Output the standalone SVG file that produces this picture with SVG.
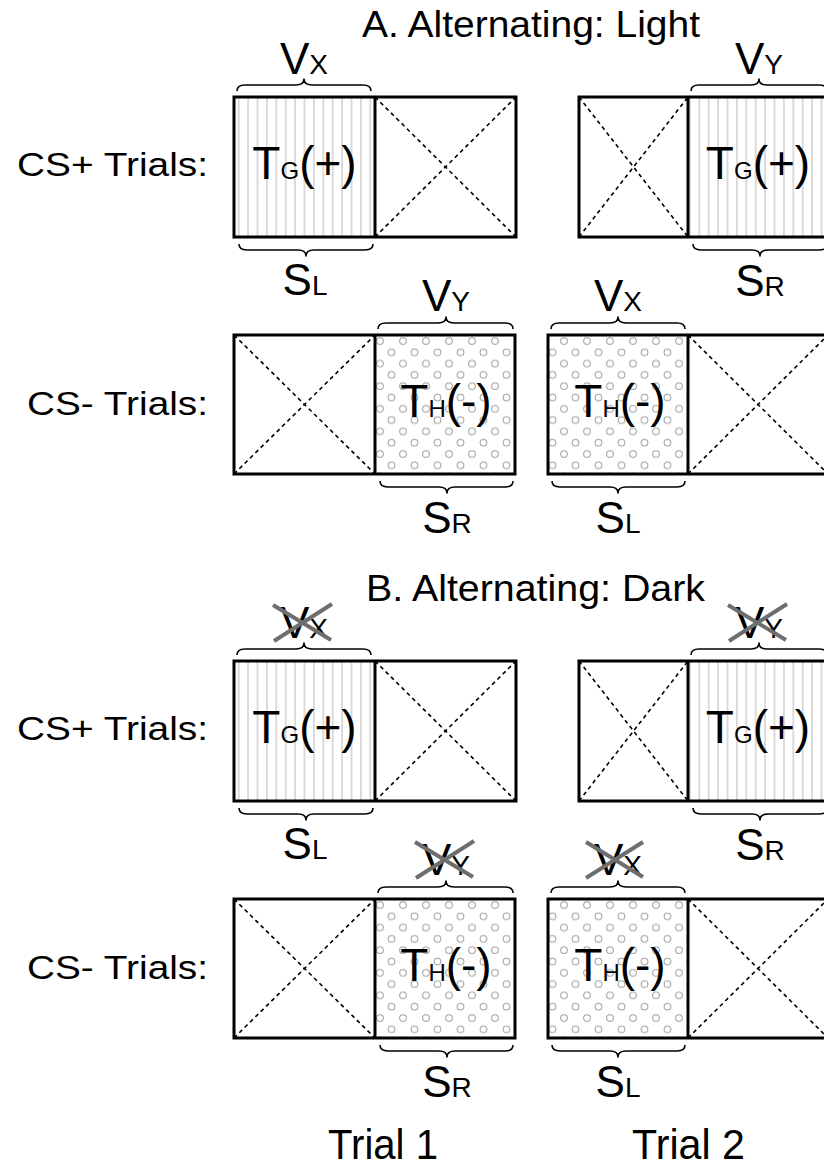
<svg xmlns="http://www.w3.org/2000/svg" width="824" height="1168" viewBox="0 0 824 1168">
  <style>
    .lbl { font-family: "Liberation Sans", Arial, Helvetica, sans-serif; fill: #000; }
    .outline { fill: none; stroke: #000; stroke-width: 3; }
    .div { stroke: #000; stroke-width: 3; }
    .diag { stroke: #000; stroke-width: 1.6; stroke-dasharray: 4 3.5; fill: none; }
    .brace { fill: none; stroke: #000; stroke-width: 1.6; stroke-linejoin: round; }
    .strike { stroke: #6e6e6e; stroke-width: 4; fill: none; }
    .big { font-size: 44px; }
    .sub { font-size: 28px; }
    .tbig { font-size: 46px; }
    .tsub { font-size: 24px; }
  </style>
  <defs>
    <!-- vertical grating (T_G) -->
    <pattern id="stripes" patternUnits="userSpaceOnUse" x="234" y="0" width="9.4" height="10">
      <rect width="9.4" height="10" fill="#fff"/>
      <line x1="4.7" y1="0" x2="4.7" y2="10" stroke="#b8b8b8" stroke-width="1"/>
    </pattern>
    <!-- open circles (T_H) -->
    <pattern id="dots" patternUnits="userSpaceOnUse" x="375" y="335" width="23" height="22.6">
      <rect width="23" height="22.6" fill="#fff"/>
      <circle cx="5" cy="6" r="3.4" fill="none" stroke="#a0a0a0" stroke-width="1"/>
      <circle cx="16.5" cy="17.3" r="3.4" fill="none" stroke="#a0a0a0" stroke-width="1"/>
    </pattern>
  </defs>

  <rect width="824" height="1168" fill="#fff"/>

  <!-- ===================== Panel A ===================== -->
  <g id="panelA">
    <text class="lbl" x="362" y="37" font-size="36" textLength="338" lengthAdjust="spacingAndGlyphs">A. Alternating: Light</text>
    <text class="lbl" x="17" y="176" font-size="34" textLength="191" lengthAdjust="spacingAndGlyphs">CS+ Trials:</text>
    <text class="lbl" x="27" y="415" font-size="34" textLength="181" lengthAdjust="spacingAndGlyphs">CS- Trials:</text>

    <g id="A-csplus-trial1">
      <rect x="234" y="97" width="141" height="140" fill="url(#stripes)"/>
      <rect x="375" y="97" width="141" height="140" fill="#fff"/>
      <line class="diag" x1="375" y1="97" x2="516" y2="237"/>
      <line class="diag" x1="375" y1="237" x2="516" y2="97"/>
      <rect class="outline" x="234" y="97" width="282" height="140"/>
      <line class="div" x1="375" y1="97" x2="375" y2="237"/>
      <text class="lbl" x="304.5" y="179" text-anchor="middle"><tspan class="tbig">T</tspan><tspan class="tsub">G</tspan><tspan class="tbig">(+)</tspan></text>
      <text class="lbl" x="304" y="74" text-anchor="middle"><tspan class="big">V</tspan><tspan class="sub">X</tspan></text>
      <text class="lbl" x="305" y="295" text-anchor="middle"><tspan class="big">S</tspan><tspan class="sub">L</tspan></text>
    </g>

    <g id="A-csplus-trial2">
      <rect x="579" y="97" width="109" height="140" fill="#fff"/>
      <rect x="688" y="97" width="142" height="140" fill="url(#stripes)"/>
      <line class="diag" x1="579" y1="97" x2="688" y2="237"/>
      <line class="diag" x1="579" y1="237" x2="688" y2="97"/>
      <rect class="outline" x="579" y="97" width="253" height="140"/>
      <line class="div" x1="688" y1="97" x2="688" y2="237"/>
      <text class="lbl" x="758" y="179" text-anchor="middle"><tspan class="tbig">T</tspan><tspan class="tsub">G</tspan><tspan class="tbig">(+)</tspan></text>
      <text class="lbl" x="759" y="74" text-anchor="middle"><tspan class="big">V</tspan><tspan class="sub">Y</tspan></text>
      <text class="lbl" x="760" y="296" text-anchor="middle"><tspan class="big">S</tspan><tspan class="sub">R</tspan></text>
    </g>

    <g id="A-csminus-trial1">
      <rect x="234" y="335" width="141" height="139" fill="#fff"/>
      <rect x="375" y="335" width="140" height="139" fill="url(#dots)"/>
      <line class="diag" x1="234" y1="335" x2="375" y2="474"/>
      <line class="diag" x1="234" y1="474" x2="375" y2="335"/>
      <rect class="outline" x="234" y="335" width="281" height="139"/>
      <line class="div" x1="375" y1="335" x2="375" y2="474"/>
      <text class="lbl" x="446" y="417" text-anchor="middle"><tspan class="tbig">T</tspan><tspan class="tsub">H</tspan><tspan class="tbig">(-)</tspan></text>
      <text class="lbl" x="446" y="311" text-anchor="middle"><tspan class="big">V</tspan><tspan class="sub">Y</tspan></text>
      <text class="lbl" x="447" y="533" text-anchor="middle"><tspan class="big">S</tspan><tspan class="sub">R</tspan></text>
    </g>

    <g id="A-csminus-trial2">
      <rect x="548" y="335" width="140" height="139" fill="url(#dots)"/>
      <rect x="688" y="335" width="142" height="139" fill="#fff"/>
      <line class="diag" x1="688" y1="335" x2="828" y2="474"/>
      <line class="diag" x1="688" y1="474" x2="828" y2="335"/>
      <rect class="outline" x="548" y="335" width="284" height="139"/>
      <line class="div" x1="688" y1="335" x2="688" y2="474"/>
      <text class="lbl" x="620" y="417" text-anchor="middle"><tspan class="tbig">T</tspan><tspan class="tsub">H</tspan><tspan class="tbig">(-)</tspan></text>
      <text class="lbl" x="618" y="311" text-anchor="middle"><tspan class="big">V</tspan><tspan class="sub">X</tspan></text>
      <text class="lbl" x="618" y="533" text-anchor="middle"><tspan class="big">S</tspan><tspan class="sub">L</tspan></text>
    </g>

    <g id="A-braces">
      <path class="brace" d="M237,91 Q237,85 245,85 L296,85 Q304,85 304,79 Q304,85 312,85 L363,85 Q371,85 371,91"/>
      <path class="brace" d="M239,244 Q239,250 247,250 L298,250 Q306,250 306,256 Q306,250 314,250 L365,250 Q373,250 373,244"/>
      <path class="brace" d="M691,91 Q691,85 699,85 L751,85 Q759,85 759,79 Q759,85 767,85 L819,85 Q827,85 827,91"/>
      <path class="brace" d="M693,244 Q693,250 701,250 L752,250 Q760,250 760,256 Q760,250 768,250 L819,250 Q827,250 827,244"/>
      <path class="brace" d="M378,329 Q378,323 386,323 L438,323 Q446,323 446,317 Q446,323 454,323 L505,323 Q513,323 513,329"/>
      <path class="brace" d="M380,481 Q380,487 388,487 L439,487 Q447,487 447,493 Q447,487 455,487 L505,487 Q513,487 513,481"/>
      <path class="brace" d="M551,329 Q551,323 559,323 L610,323 Q618,323 618,317 Q618,323 626,323 L677,323 Q685,323 685,329"/>
      <path class="brace" d="M552,481 Q552,487 560,487 L610,487 Q618,487 618,493 Q618,487 626,487 L677,487 Q685,487 685,481"/>
    </g>
  </g>

  <!-- ===================== Panel B ===================== -->
  <g id="panelB" transform="translate(0,564)">
    <text class="lbl" x="366" y="37" font-size="36" textLength="339" lengthAdjust="spacingAndGlyphs">B. Alternating: Dark</text>
    <text class="lbl" x="17" y="176" font-size="34" textLength="191" lengthAdjust="spacingAndGlyphs">CS+ Trials:</text>
    <text class="lbl" x="27" y="415" font-size="34" textLength="181" lengthAdjust="spacingAndGlyphs">CS- Trials:</text>

    <g id="B-csplus-trial1">
      <rect x="234" y="97" width="141" height="140" fill="url(#stripes)"/>
      <rect x="375" y="97" width="141" height="140" fill="#fff"/>
      <line class="diag" x1="375" y1="97" x2="516" y2="237"/>
      <line class="diag" x1="375" y1="237" x2="516" y2="97"/>
      <rect class="outline" x="234" y="97" width="282" height="140"/>
      <line class="div" x1="375" y1="97" x2="375" y2="237"/>
      <text class="lbl" x="304.5" y="179" text-anchor="middle"><tspan class="tbig">T</tspan><tspan class="tsub">G</tspan><tspan class="tbig">(+)</tspan></text>
      <text class="lbl" x="304" y="74" text-anchor="middle"><tspan class="big">V</tspan><tspan class="sub">X</tspan></text>
      <path class="strike" d="M273,41 L331,76 M274,77 L332,40"/>
      <text class="lbl" x="305" y="295" text-anchor="middle"><tspan class="big">S</tspan><tspan class="sub">L</tspan></text>
    </g>

    <g id="B-csplus-trial2">
      <rect x="579" y="97" width="109" height="140" fill="#fff"/>
      <rect x="688" y="97" width="142" height="140" fill="url(#stripes)"/>
      <line class="diag" x1="579" y1="97" x2="688" y2="237"/>
      <line class="diag" x1="579" y1="237" x2="688" y2="97"/>
      <rect class="outline" x="579" y="97" width="253" height="140"/>
      <line class="div" x1="688" y1="97" x2="688" y2="237"/>
      <text class="lbl" x="758" y="179" text-anchor="middle"><tspan class="tbig">T</tspan><tspan class="tsub">G</tspan><tspan class="tbig">(+)</tspan></text>
      <text class="lbl" x="759" y="74" text-anchor="middle"><tspan class="big">V</tspan><tspan class="sub">Y</tspan></text>
      <path class="strike" d="M728,41 L786,76 M729,77 L787,40"/>
      <text class="lbl" x="760" y="296" text-anchor="middle"><tspan class="big">S</tspan><tspan class="sub">R</tspan></text>
    </g>

    <g id="B-csminus-trial1">
      <rect x="234" y="335" width="141" height="139" fill="#fff"/>
      <rect x="375" y="335" width="140" height="139" fill="url(#dots)"/>
      <line class="diag" x1="234" y1="335" x2="375" y2="474"/>
      <line class="diag" x1="234" y1="474" x2="375" y2="335"/>
      <rect class="outline" x="234" y="335" width="281" height="139"/>
      <line class="div" x1="375" y1="335" x2="375" y2="474"/>
      <text class="lbl" x="446" y="417" text-anchor="middle"><tspan class="tbig">T</tspan><tspan class="tsub">H</tspan><tspan class="tbig">(-)</tspan></text>
      <text class="lbl" x="446" y="311" text-anchor="middle"><tspan class="big">V</tspan><tspan class="sub">Y</tspan></text>
      <path class="strike" d="M415,278 L473,313 M416,314 L474,277"/>
      <text class="lbl" x="447" y="533" text-anchor="middle"><tspan class="big">S</tspan><tspan class="sub">R</tspan></text>
    </g>

    <g id="B-csminus-trial2">
      <rect x="548" y="335" width="140" height="139" fill="url(#dots)"/>
      <rect x="688" y="335" width="142" height="139" fill="#fff"/>
      <line class="diag" x1="688" y1="335" x2="828" y2="474"/>
      <line class="diag" x1="688" y1="474" x2="828" y2="335"/>
      <rect class="outline" x="548" y="335" width="284" height="139"/>
      <line class="div" x1="688" y1="335" x2="688" y2="474"/>
      <text class="lbl" x="620" y="417" text-anchor="middle"><tspan class="tbig">T</tspan><tspan class="tsub">H</tspan><tspan class="tbig">(-)</tspan></text>
      <text class="lbl" x="618" y="311" text-anchor="middle"><tspan class="big">V</tspan><tspan class="sub">X</tspan></text>
      <path class="strike" d="M586,278 L643,313 M586,314 L643,278"/>
      <text class="lbl" x="618" y="533" text-anchor="middle"><tspan class="big">S</tspan><tspan class="sub">L</tspan></text>
    </g>

    <g id="B-braces">
      <path class="brace" d="M237,91 Q237,85 245,85 L296,85 Q304,85 304,79 Q304,85 312,85 L363,85 Q371,85 371,91"/>
      <path class="brace" d="M239,244 Q239,250 247,250 L298,250 Q306,250 306,256 Q306,250 314,250 L365,250 Q373,250 373,244"/>
      <path class="brace" d="M691,91 Q691,85 699,85 L751,85 Q759,85 759,79 Q759,85 767,85 L819,85 Q827,85 827,91"/>
      <path class="brace" d="M693,244 Q693,250 701,250 L752,250 Q760,250 760,256 Q760,250 768,250 L819,250 Q827,250 827,244"/>
      <path class="brace" d="M378,329 Q378,323 386,323 L438,323 Q446,323 446,317 Q446,323 454,323 L505,323 Q513,323 513,329"/>
      <path class="brace" d="M380,481 Q380,487 388,487 L439,487 Q447,487 447,493 Q447,487 455,487 L505,487 Q513,487 513,481"/>
      <path class="brace" d="M551,329 Q551,323 559,323 L610,323 Q618,323 618,317 Q618,323 626,323 L677,323 Q685,323 685,329"/>
      <path class="brace" d="M552,481 Q552,487 560,487 L610,487 Q618,487 618,493 Q618,487 626,487 L677,487 Q685,487 685,481"/>
    </g>
  </g>

  <!-- column captions -->
  <g id="captions">
    <text class="lbl" x="328" y="1159" font-size="42" textLength="110" lengthAdjust="spacingAndGlyphs">Trial 1</text>
    <text class="lbl" x="632" y="1159" font-size="42" textLength="113" lengthAdjust="spacingAndGlyphs">Trial 2</text>
  </g>
</svg>
